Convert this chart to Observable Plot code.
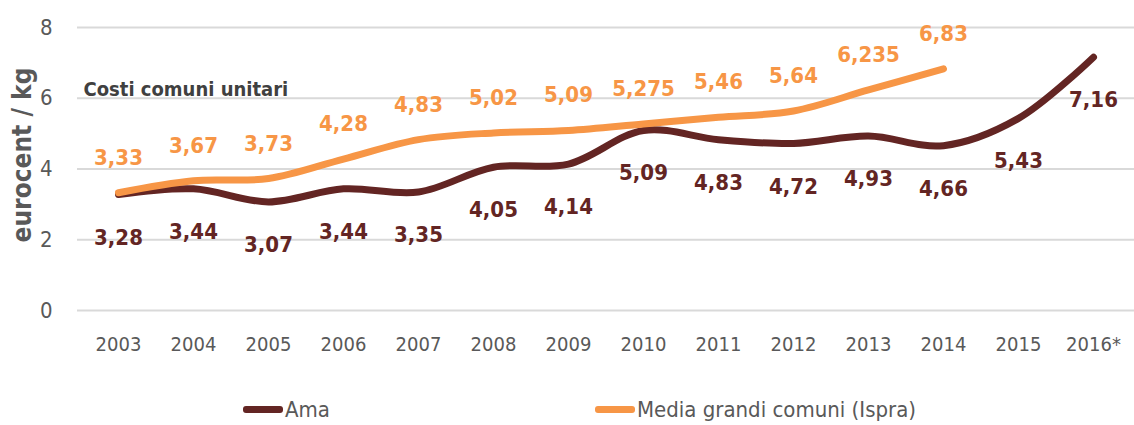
<!DOCTYPE html>
<html>
<head>
<meta charset="utf-8">
<script src="https://cdn.jsdelivr.net/npm/d3@7"></script>
<script src="https://cdn.jsdelivr.net/npm/@observablehq/plot@0.6"></script>
<style>
  body { margin: 0; background: #fff; font-family: "DejaVu Sans Condensed", sans-serif; }
  #chart { width: 1134px; height: 425px; position: relative; overflow: hidden; }
  .legend { position: absolute; top: 395px; left: 0; width: 1134px; height: 28px; font-size: 22px; color: #595959; }
  .legend .item { position: absolute; display: flex; align-items: center; height: 28px; }
  .legend .sw { display: inline-block; width: 40px; height: 7px; border-radius: 3px; margin-right: 2px; }
</style>
</head>
<body>
<div id="chart"></div>
<script>
const years = ["2003","2004","2005","2006","2007","2008","2009","2010","2011","2012","2013","2014","2015","2016*"];
const ama = [3.28, 3.44, 3.07, 3.44, 3.35, 4.05, 4.14, 5.09, 4.83, 4.72, 4.93, 4.66, 5.43, 7.16];
const media = [3.33, 3.67, 3.73, 4.28, 4.83, 5.02, 5.09, 5.275, 5.46, 5.64, 6.235, 6.83, null, null];
const yTicks = [0, 2, 4, 6, 8];
const seriesNames = ["Ama", "Media grandi comuni (Ispra)"];
const colors = ["#632523", "#f79646"];
const annotation = "Costi comuni unitari";
const yTitle = "eurocent / kg";

const fmt = v => String(v).replace(".", ",");
const amaData = years.map((y, i) => ({year: y, value: ama[i]}));
const mediaData = years.map((y, i) => ({year: y, value: media[i]})).filter(d => d.value != null);

const font = `"DejaVu Sans Condensed", sans-serif`;

const chart = Plot.plot({
  width: 1134,
  height: 370,
  marginTop: 27,
  marginBottom: 60,
  marginLeft: 77,
  marginRight: 0,
  style: {fontFamily: font, background: "white", overflow: "visible"},
  x: {type: "point", domain: years, padding: 0.5, label: null},
  y: {domain: [0, 8], ticks: yTicks, label: null},
  marks: [
    Plot.ruleY(yTicks, {stroke: "#d9d9d9", strokeWidth: 2}),
    Plot.axisY({ticks: yTicks, tickSize: 0, tickPadding: 0, dx: -25, fontSize: 22, fill: "#595959", textAnchor: "end", label: null}),
    Plot.axisX({tickSize: 0, tickPadding: 26, fontSize: 20, fill: "#595959", label: null}),
    Plot.line(amaData, {x: "year", y: "value", stroke: colors[0], strokeWidth: 7, curve: "catmull-rom", strokeLinecap: "round"}),
    Plot.line(mediaData, {x: "year", y: "value", stroke: colors[1], strokeWidth: 7, curve: "catmull-rom", strokeLinecap: "round"}),
    Plot.text(mediaData, {x: "year", y: "value", text: d => fmt(d.value), dy: -35, fill: colors[1], fontSize: 22, fontWeight: "bold"}),
    Plot.text(amaData, {x: "year", y: "value", text: d => fmt(d.value), dy: 43, fill: colors[0], fontSize: 22, fontWeight: "bold"}),
    Plot.text([annotation], {frameAnchor: "top-left", dx: 6, dy: 54, fontSize: 20, fill: "#404040", fontWeight: "bold", textAnchor: "start"}),
    Plot.text([yTitle], {frameAnchor: "left", textAnchor: "middle", dx: -55, dy: -14, rotate: -90, fontSize: 26, fontWeight: "bold", fill: "#595959"})
  ]
});
const root = document.getElementById("chart");
root.appendChild(chart);

const legend = document.createElement("div");
legend.className = "legend";
const positions = [243, 595];
seriesNames.forEach((name, i) => {
  const item = document.createElement("div");
  item.className = "item";
  item.style.left = positions[i] + "px";
  const sw = document.createElement("span");
  sw.className = "sw";
  sw.style.background = colors[i];
  item.appendChild(sw);
  const t = document.createElement("span");
  t.textContent = name;
  item.appendChild(t);
  legend.appendChild(item);
});
root.appendChild(legend);
</script>
</body>
</html>
